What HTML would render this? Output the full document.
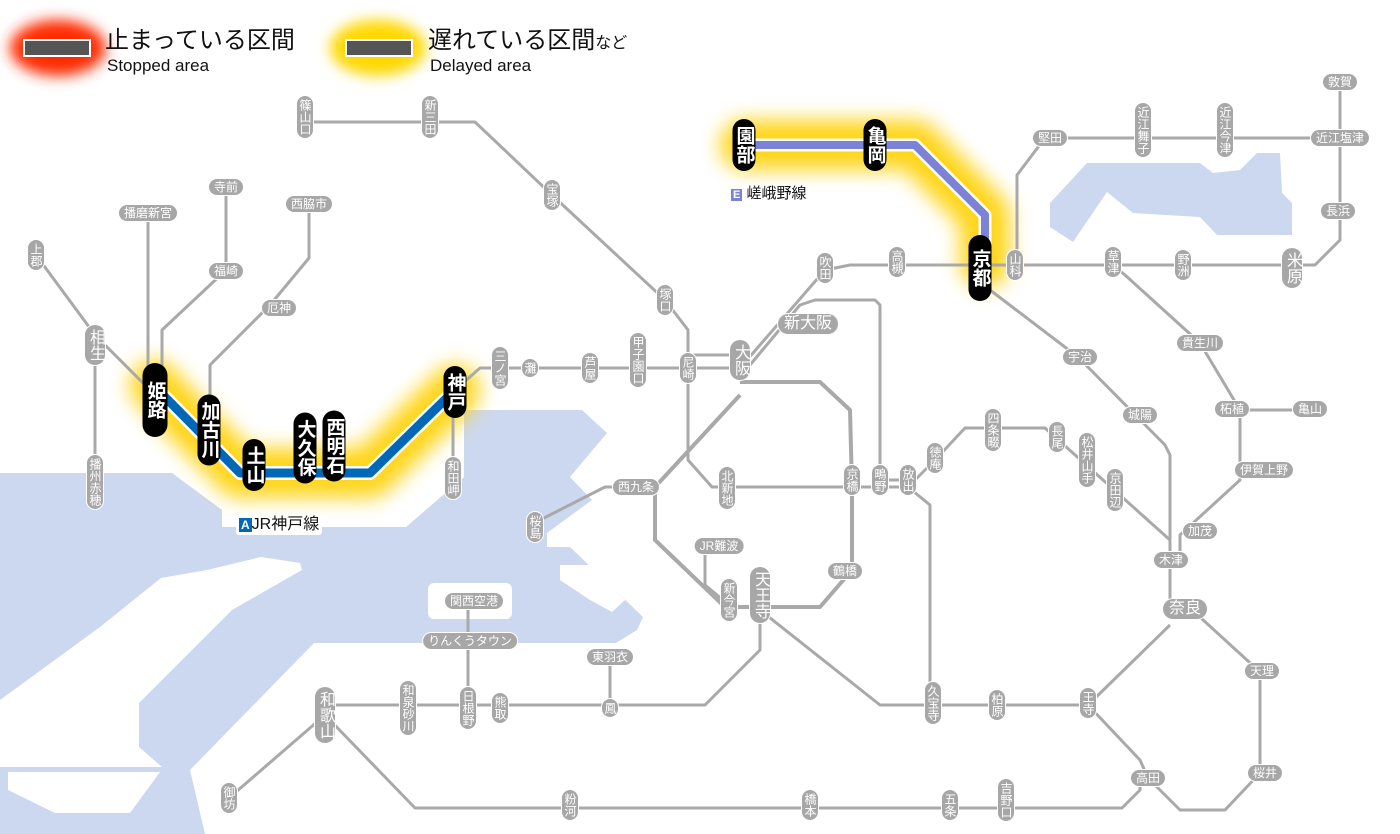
<!DOCTYPE html>
<html><head><meta charset="utf-8">
<style>
html,body{margin:0;padding:0;background:#fff;}
#w{position:relative;width:1400px;height:834px;overflow:hidden;font-family:"Liberation Sans","Noto Sans CJK JP",sans-serif;}
svg{position:absolute;left:0;top:0;}
.l{position:absolute;transform:translate(-50%,-50%);white-space:nowrap;color:#fff;background:#a7a7a7;box-shadow:0 0 0 1px #fff;line-height:1;}
.s{writing-mode:vertical-rl;text-orientation:upright;font-size:12px;padding:3px 2px;border-radius:8px;letter-spacing:0;}
.h{font-size:12px;padding:2px 5px;border-radius:8px;}
.S{writing-mode:vertical-rl;text-orientation:upright;font-size:16px;padding:4px 2px;border-radius:10px;}
.H{font-size:16px;padding:2px 6px;border-radius:10px;}
.b{writing-mode:vertical-rl;text-orientation:upright;font-size:19px;font-weight:bold;padding:7px 2px;border-radius:14px;background:#000;box-shadow:none;}
.t{position:absolute;color:#111;white-space:nowrap;line-height:1;}
</style></head><body><div id="w">
<svg width="1400" height="834" viewBox="0 0 1400 834">
<defs>
<filter id="bl" x="-50%" y="-50%" width="200%" height="200%"><feGaussianBlur stdDeviation="10"/></filter>
<filter id="bl2" x="-50%" y="-50%" width="200%" height="200%"><feGaussianBlur stdDeviation="7"/></filter>
</defs>
<g fill="#ccd8f0">
<polygon points="0,473 172,473 222,510 222,527 406,527 464,477 464,410 582,410 607,433 570,477 592,500 547,533 547,547 570,547 643,617 637,630 616,643 314,643 190,770 205,834 0,834"/>
<polygon points="1050,203 1087,163 1200,163 1213,173 1240,170 1257,153 1280,153 1282,193 1292,203 1292,235 1217,235 1200,217 1133,213 1107,192 1073,242 1050,227"/>
</g>
<g fill="#fff">
<polygon points="0,700 100,627 161,578 207,570 261,557 300,563 302,570 232,610 139,703 139,747 162,767 0,767"/>
<polygon points="8,772 160,772 130,813 55,813 8,790"/>
<rect x="428" y="583" width="84" height="36" rx="6"/>
<polygon points="560,565 590,565 625,600 612,612 590,600 560,580"/>
</g>
<ellipse cx="58" cy="48" rx="48" ry="28" fill="#ff2a00" filter="url(#bl2)"/>
<ellipse cx="378" cy="48" rx="48" ry="28" fill="#ffd800" filter="url(#bl2)"/>
<rect x="24" y="40" width="66" height="16" fill="#555" stroke="#fff" stroke-width="2"/>
<rect x="346" y="40" width="66" height="16" fill="#555" stroke="#fff" stroke-width="2"/>
<g fill="none" stroke="#ffd000" stroke-linejoin="round" stroke-linecap="round" filter="url(#bl)" opacity="0.9">
<polyline stroke-width="50" points="155,385 160,392 240,473 370,473 455,390"/>
<polyline stroke-width="50" points="745,145 915,145 985,215 985,262"/>
</g>
<g fill="none" stroke="#a9a9a9" stroke-width="3" stroke-linejoin="round">
<polyline points="305,122 475,122 552,195 665,300 688,330 688,460 712,487 908,487"/>
<polyline points="455,390 480,368 740,368"/>
<polyline points="688,355 740,355"/>
<polyline points="740,368 825,270 850,265 1017,265 1292,265 1315,265 1340,240 1340,82"/>
<polyline points="1017,265 1017,175 1045,138 1340,138"/>
<polyline stroke-width="4" points="740,382 820,382 850,410 852,487 852,570 820,607 725,607 655,540 655,487 740,395"/>
<polyline points="655,487 605,487 540,520"/>
<polyline points="750,365 800,305 815,300 875,300 880,305 880,487"/>
<polyline points="880,480 908,480"/>
<polyline points="908,487 935,460 965,428 1045,428 1170,540 1170,608"/>
<polyline points="908,487 930,505 930,705"/>
<polyline points="760,610 880,705 1088,705 1170,625"/>
<polyline points="990,290 1078,357 1165,445 1170,455 1170,560"/>
<polyline points="1180,560 1180,535 1240,480 1240,410 1200,343 1125,275 1113,265"/>
<polyline points="1240,410 1310,410"/>
<polyline points="1190,608 1260,672 1260,773 1225,810 1180,810 1148,778 1140,760 1088,705"/>
<polyline points="1140,778 1140,790 1122,808 415,808 325,715"/>
<polyline points="760,610 760,650 705,705 325,705"/>
<polyline points="610,657 610,705"/>
<polyline points="468,601 468,705"/>
<polyline points="325,715 229,798"/>
<polyline points="705,546 705,585 729,605"/>
<polyline points="36,255 95,335 155,395"/>
<polyline points="95,345 95,480"/>
<polyline points="148,213 148,380"/>
<polyline points="226,187 226,270 162,330 162,380"/>
<polyline points="309,204 309,258 270,305 210,365 210,420"/>
<polyline points="453,400 453,478"/>
</g>
<g fill="none" stroke-linejoin="round">
<polyline stroke="#fff" stroke-width="14" points="155,385 160,392 240,473 370,473 455,390"/>
<polyline stroke="#0068b7" stroke-width="9" points="155,385 160,392 240,473 370,473 455,390"/>
<polyline stroke="#fff" stroke-width="13" points="745,145 915,145 985,215 985,262"/>
<polyline stroke="#7c83d6" stroke-width="8" points="745,145 915,145 985,215 985,262"/>
</g>
</svg>
<div class="t" style="left:105px;top:29px;font-size:24px;">止まっている区間</div>
<div class="t" style="left:107px;top:57px;font-size:17px;">Stopped area</div>
<div class="t" style="left:428px;top:29px;font-size:24px;">遅れている区間<span style="font-size:16px">など</span></div>
<div class="t" style="left:430px;top:57px;font-size:17px;">Delayed area</div>
<div class="t" style="left:236px;top:515px;font-size:16px;background:#fff;padding:2px 3px;border-radius:3px;"><span style="background:#0068b7;color:#fff;font-size:12px;padding:0 2px;font-weight:bold;">A</span>JR神戸線</div>
<div class="t" style="left:728px;top:184px;font-size:15px;background:#fff;padding:2px 3px;border-radius:3px;"><span style="background:#7c83d6;color:#fff;font-size:11px;padding:0 2px;font-weight:bold;">E</span> 嵯峨野線</div>
<div class="l s" style="left:305px;top:117px">篠山口</div>
<div class="l s" style="left:430px;top:117px">新三田</div>
<div class="l s" style="left:552px;top:195px">宝塚</div>
<div class="l s" style="left:665px;top:300px">塚口</div>
<div class="l s" style="left:638px;top:360px">甲子園口</div>
<div class="l s" style="left:688px;top:368px">尼崎</div>
<div class="l s" style="left:590px;top:368px">芦屋</div>
<div class="l s" style="left:530px;top:368px">灘</div>
<div class="l s" style="left:500px;top:368px">三ノ宮</div>
<div class="l s" style="left:36px;top:255px">上郡</div>
<div class="l S" style="left:95px;top:345px">相生</div>
<div class="l s" style="left:95px;top:482px">播州赤穂</div>
<div class="l s" style="left:453px;top:478px">和田岬</div>
<div class="l s" style="left:825px;top:268px">吹田</div>
<div class="l s" style="left:897px;top:262px">高槻</div>
<div class="l s" style="left:1015px;top:265px">山科</div>
<div class="l s" style="left:1113px;top:262px">草津</div>
<div class="l s" style="left:1183px;top:265px">野洲</div>
<div class="l S" style="left:1292px;top:268px">米原</div>
<div class="l s" style="left:1143px;top:130px">近江舞子</div>
<div class="l s" style="left:1225px;top:130px">近江今津</div>
<div class="l s" style="left:535px;top:527px">桜島</div>
<div class="l s" style="left:727px;top:488px">北新地</div>
<div class="l s" style="left:852px;top:480px">京橋</div>
<div class="l s" style="left:880px;top:480px">鴫野</div>
<div class="l s" style="left:908px;top:480px">放出</div>
<div class="l s" style="left:935px;top:458px">徳庵</div>
<div class="l s" style="left:993px;top:430px">四条畷</div>
<div class="l s" style="left:1057px;top:437px">長尾</div>
<div class="l s" style="left:1087px;top:460px">松井山手</div>
<div class="l s" style="left:1115px;top:490px">京田辺</div>
<div class="l h" style="left:1080px;top:357px">宇治</div>
<div class="l h" style="left:1140px;top:415px">城陽</div>
<div class="l s" style="left:729px;top:600px">新今宮</div>
<div class="l S" style="left:760px;top:595px">天王寺</div>
<div class="l S" style="left:740px;top:360px">大阪</div>
<div class="l s" style="left:408px;top:708px">和泉砂川</div>
<div class="l s" style="left:468px;top:708px">日根野</div>
<div class="l s" style="left:500px;top:708px">熊取</div>
<div class="l s" style="left:610px;top:708px">鳳</div>
<div class="l S" style="left:325px;top:715px">和歌山</div>
<div class="l s" style="left:229px;top:798px">御坊</div>
<div class="l s" style="left:570px;top:805px">粉河</div>
<div class="l s" style="left:810px;top:805px">橋本</div>
<div class="l s" style="left:950px;top:805px">五条</div>
<div class="l s" style="left:1006px;top:800px">吉野口</div>
<div class="l s" style="left:933px;top:703px">久宝寺</div>
<div class="l s" style="left:997px;top:705px">柏原</div>
<div class="l s" style="left:1088px;top:703px">王寺</div>
<div class="l h" style="left:1050px;top:138px">堅田</div>
<div class="l h" style="left:1340px;top:138px">近江塩津</div>
<div class="l h" style="left:1340px;top:82px">敦賀</div>
<div class="l h" style="left:1338px;top:211px">長浜</div>
<div class="l h" style="left:1200px;top:343px">貴生川</div>
<div class="l h" style="left:1232px;top:409px">柘植</div>
<div class="l h" style="left:1310px;top:409px">亀山</div>
<div class="l h" style="left:1264px;top:470px">伊賀上野</div>
<div class="l h" style="left:1200px;top:531px">加茂</div>
<div class="l h" style="left:1171px;top:560px">木津</div>
<div class="l H" style="left:1185px;top:609px">奈良</div>
<div class="l h" style="left:1262px;top:671px">天理</div>
<div class="l h" style="left:1265px;top:773px">桜井</div>
<div class="l h" style="left:1148px;top:778px">高田</div>
<div class="l h" style="left:226px;top:187px">寺前</div>
<div class="l h" style="left:148px;top:213px">播磨新宮</div>
<div class="l h" style="left:309px;top:204px">西脇市</div>
<div class="l h" style="left:226px;top:271px">福崎</div>
<div class="l h" style="left:279px;top:308px">厄神</div>
<div class="l H" style="left:808px;top:324px">新大阪</div>
<div class="l h" style="left:636px;top:487px">西九条</div>
<div class="l h" style="left:719px;top:546px">JR難波</div>
<div class="l h" style="left:845px;top:571px">鶴橋</div>
<div class="l h" style="left:474px;top:601px">関西空港</div>
<div class="l h" style="left:470px;top:641px">りんくうタウン</div>
<div class="l h" style="left:610px;top:657px">東羽衣</div>
<div class="l b" style="left:744px;top:145px">園部</div>
<div class="l b" style="left:875px;top:145px">亀岡</div>
<div class="l b" style="left:980px;top:268px;padding:14px 2px">京都</div>
<div class="l b" style="left:155px;top:400px;padding:18px 3px">姫路</div>
<div class="l b" style="left:209px;top:430px">加古川</div>
<div class="l b" style="left:254px;top:465px">土山</div>
<div class="l b" style="left:305px;top:448px">大久保</div>
<div class="l b" style="left:334px;top:446px">西明石</div>
<div class="l b" style="left:455px;top:392px">神戸</div>
</div></body></html>
